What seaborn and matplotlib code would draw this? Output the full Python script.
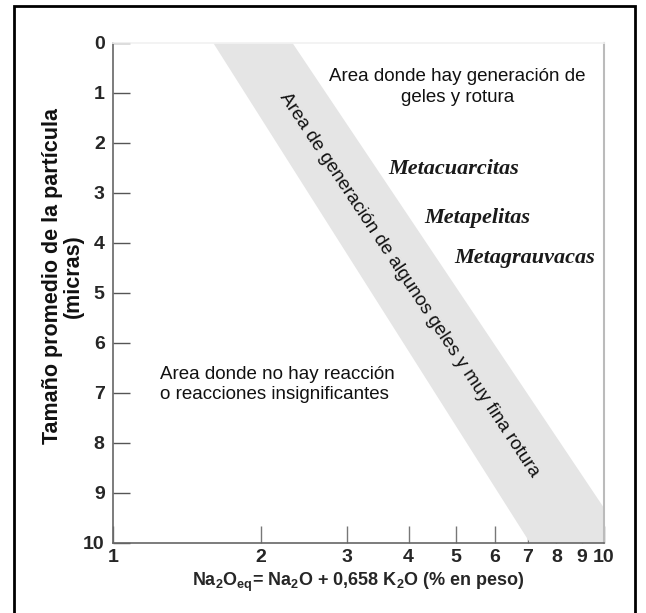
import matplotlib
matplotlib.use("Agg")
import matplotlib.pyplot as plt
import seaborn as sns
from matplotlib.patches import Rectangle

sns.set_theme(style="white")
plt.rcParams['font.family'] = ['Liberation Sans', 'DejaVu Sans']

# ---- data ----
x_ticks = [1, 2, 3, 4, 5, 6, 7, 8, 9, 10]
y_ticks = [0, 1, 2, 3, 4, 5, 6, 7, 8, 9, 10]
band_x = [1.60, 2.32, 10.0, 10.0, 7.07]
band_y = [0.0, 0.0, 9.3, 10.0, 10.0]
rock_names = ["Metacuarcitas", "Metapelitas", "Metagrauvacas"]
rock_x = [4.95, 5.51, 6.9]
rock_y = [2.53, 3.5, 4.3]

fig = plt.figure(figsize=(6.46, 6.13), dpi=100)
ax = fig.add_axes([0.175, 0.1142, 0.76, 0.8157])

ax.fill(band_x, band_y, color="#e5e5e5", lw=0, zorder=1)

ax.set_xscale('log')
ax.set_xlim(1, 10)
ax.set_ylim(10, 0)
ax.set_xticks(x_ticks)
ax.set_xticklabels([str(v) for v in x_ticks], fontsize=14, fontweight='bold')
ax.xaxis.set_minor_locator(matplotlib.ticker.NullLocator())
ax.set_yticks(y_ticks)
ax.set_yticklabels([str(v) for v in y_ticks], fontsize=14, fontweight='bold')

ax.tick_params(axis='x', direction='in', length=12, width=1, color='#777777', pad=4, bottom=True)
ax.tick_params(axis='y', direction='in', length=12, width=1, color='#555555', pad=6, left=True)
faint = {0, 2, 6, 8, 9, 10}
for v, t in zip(y_ticks, ax.yaxis.get_major_ticks()):
    if v in faint:
        t.tick1line.set_color('#e8e8e8')

for s in ['left', 'bottom']:
    ax.spines[s].set_color('#666666')
    ax.spines[s].set_linewidth(1.2)
ax.spines['right'].set_color('#bbbbbb')
ax.spines['right'].set_linewidth(1.5)
ax.spines['top'].set_color('#f2f2f2')

ax.set_ylabel("")
ax.text(-0.102, 0.534, "Tamaño promedio de la partícula\n(micras)", transform=ax.transAxes,
        rotation=90, ha='center', va='center', fontsize=15.5, fontweight='bold',
        linespacing=1.05, color='#111111')
ax.set_xlabel(r"Na$_\mathregular{2}$O$_\mathregular{eq}$= Na$_\mathregular{2}$O + 0,658 K$_\mathregular{2}$O (% en peso)",
              fontsize=13, fontweight='bold', labelpad=4)

ax.text(5.03, 0.88, "Area donde hay generación de\ngeles y rotura", ha='center', va='center',
        fontsize=13.5, color='#111111', linespacing=1.25)
ax.text(1.245, 6.83, "Area donde no hay reacción\no reacciones insignificantes", ha='left', va='center',
        fontsize=13.5, color='#111111', linespacing=1.3)
for n, xx, yy in zip(rock_names, rock_x, rock_y):
    ax.text(xx, yy, n, ha='center', va='center', fontsize=16, fontweight='bold', fontstyle='italic',
            family='Liberation Serif', color='#1a1a1a')
ax.text(4.02, 4.83, "Area de generación de algunos geles y muy fina rotura", ha='center', va='center',
        rotation=-56.5, rotation_mode='anchor', fontsize=13.6, color='#111111')

fig.patches.append(Rectangle((0.021, -0.05), 0.962, 1.04, transform=fig.transFigure,
                             fill=False, ec='black', lw=2))

fig.savefig("out.png", dpi=100)
